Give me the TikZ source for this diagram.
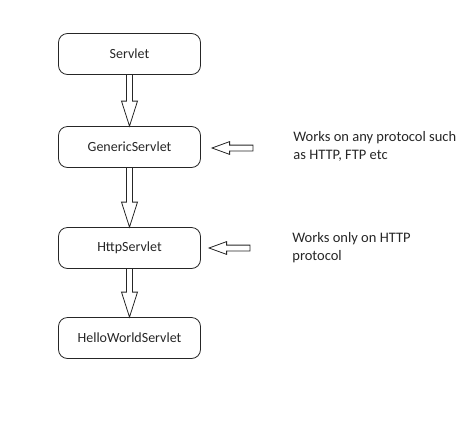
\documentclass[tikz,border=0pt]{standalone}
\usepackage{fontspec}
\setmainfont{Carlito}
\usetikzlibrary{shapes.arrows,calc}

\begin{document}
\begin{tikzpicture}[x=1pt, y=-1pt, line width=0.8pt, color=black!85,
	box/.style={draw, rounded corners=9pt, minimum width=142pt, minimum height=41pt, inner sep=0pt, font=\fontsize{14}{18}\selectfont},
	note/.style={anchor=west, align=left, inner sep=0pt, font=\fontsize{14.5}{18}\selectfont},
	side/.style={draw, single arrow, shape border rotate=180, minimum height=41pt, minimum width=12pt, text height=5pt, text depth=0pt, text width=0pt, single arrow head extend=3.5pt, single arrow tip angle=40, inner sep=0pt}]
	\useasboundingbox (0,0) rectangle (474,421);
	
	%class hierarchy
	\node[box] (servlet) at (129.5,54) {Servlet};
	\node[box] (generic) at (129.5,147) {GenericServlet};
	\node[box] (http) at (129.5,248) {HttpServlet};
	\node[box] (hello) at (129.5,338) {HelloWorldServlet};
	
	%block arrows
	\foreach \a/\b in {servlet/generic, generic/http, http/hello}
	\draw ($(\a.south)+(-3,0)$) -- ($(\b.north)+(-3,-25)$) -- ++(-5,0) -- (\b.north)
		-- ++(8,-25) -- ++(-5,0) -- ($(\a.south)+(3,0)$);
	
	%notes
	\node[side] (arrgeneric) at (236.5,148) {};
	\node[note] (notegeneric) at (293,146) {Works on any protocol such\\as HTTP, FTP etc};
	\node[side] (arrhttp) at (233.5,248) {};
	\node[note] (notehttp) at (292,248) {Works only on HTTP\\protocol};
\end{tikzpicture}
\end{document}
